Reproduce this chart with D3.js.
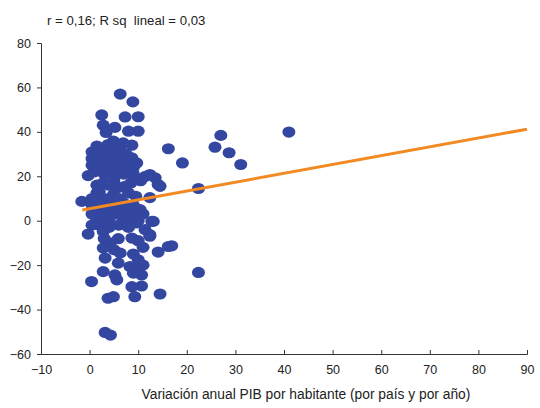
<!DOCTYPE html>
<html>
<head>
<meta charset="utf-8">
<script src="https://cdn.jsdelivr.net/npm/d3@7"></script>
<style>
  body { margin: 0; background: #fff; }
  text { font-family: "Liberation Sans", Arial, sans-serif; fill: #222; }
</style>
</head>
<body>
<script>
// scatter points [variación PIB, valor]
var points = [
  [6.3,57],[8.9,53.5],[2.5,47.6],[7.3,46.7],[10,46.8],[2.8,43],[5.2,42],[3.4,39.7],
  [8,40.3],[10,40.3],[4.9,35.8],[1.5,33.6],[3.8,34.3],[6.9,35],[8.7,34],[16.2,32.4],
  [19.1,26],[27,38.4],[25.8,33.1],[28.7,30.6],[31.1,25.3],[41,39.9],[22.4,14.5],[22.4,-23.3],
  [16.9,-11.3],[14.1,-14.1],[13.1,-0.3],[12.4,-6.3],[14.5,15.5],[13.5,19.3],[12.4,10.4],[14.5,-33],
  [0.5,31],[1.5,30.7],[2.5,31.5],[3.5,32],[4.5,31],[5.5,32],[6.5,31],[7.5,30],
  [0.5,28],[1.5,27],[2.5,26],[3,29],[4.2,25.3],[5,27],[6,28],[7,26],[8.7,28.3],[9.7,26],[9,24],[0.5,25],
  [-0.3,20.3],[1,22],[2,23],[3,21],[4,22],[5,20],[6,23],[7,21],[8,22],[9.3,19.4],[9,21],[12.4,20.8],[11.5,20],
  [2.8,17],[1.5,16],[4,16],[5,18],[6,15],[7.3,15.5],[8.5,17],[10.5,18],[14.1,16.3],
  [1.5,12.5],[4.9,11.7],[8,12.5],[3,10],[0.5,10],[6,10],[9.5,11],[2,13],
  [-1.6,8.7],[0.5,7],[1.5,6],[2.5,8],[3.5,5],[4.5,7],[6,6],[7,8],[10.4,5],[9,7],[8,5],
  [0.5,3],[1.5,1],[2.5,2],[4,0.5],[5,3],[6.3,2.7],[7.5,1],[9,2],[10,0],[11,3],[12.8,-0.3],
  [1.8,-1.8],[2.8,-4.8],[4,-3],[6,-2],[8,-3],[9.5,-1],[11.4,-4],[0.5,-2],
  [-0.3,-6],[5.9,-8.1],[8.7,-7.8],[12.4,-7],[4.2,-10],[3,-8],[10,-9],
  [2.8,-12.3],[6.3,-14.6],[3.2,-16.8],[5,-13],[9,-15],[11,-12],[16.2,-11.6],
  [5.9,-19.1],[10,-17.6],[8.3,-20.6],[2.8,-22.9],[5.2,-24.4],[9,-23.6],[10.7,-24.4],[9.5,-21],[11,-20],
  [0.4,-27.4],[5.6,-26.6],[8.7,-29.7],[10.7,-29.4],[9.3,-34.2],[3.8,-34.9],[4.9,-34.2],
  [3.2,-50.3],[4.3,-51.5]
];

// linear fit line endpoints
var fitX = [-1.5, 90],
    fitY = [4.8, 41.2];

var xTicks = [-10, 0, 10, 20, 30, 40, 50, 60, 70, 80, 90],
    yTicks = [-60, -40, -20, 0, 20, 40, 60, 80];

var title = "r = 0,16; R sq  lineal = 0,03",
    xTitle = "Variación anual PIB por habitante (por país y por año)";

var width = 540,
    height = 408;

var svg = d3.select("body")
    .append("svg")
    .attr("width", width)
    .attr("height", height);

var x = d3.scaleLinear().domain([-10, 90]).range([41, 527]);
var y = d3.scaleLinear().domain([-60, 80]).range([354, 43]);

// points
svg.append("g")
    .selectAll("ellipse")
    .data(points)
    .enter()
    .append("ellipse")
    .attr("cx", function(d) { return x(d[0]); })
    .attr("cy", function(d) { return y(d[1]); })
    .attr("rx", 6.5)
    .attr("ry", 5.6)
    .attr("fill", "#3346a0");

// fit line
svg.append("line")
    .attr("x1", x(fitX[0]))
    .attr("y1", y(fitY[0]))
    .attr("x2", x(fitX[1]))
    .attr("y2", y(fitY[1]))
    .attr("stroke", "#f28a23")
    .attr("stroke-width", 3);

// axes
var yAxis = svg.append("g")
    .attr("transform", "translate(41,0)")
    .call(d3.axisLeft(y).tickValues(yTicks).tickSize(4).tickPadding(6));

var xAxis = svg.append("g")
    .attr("transform", "translate(0,354)")
    .call(d3.axisBottom(x).tickValues(xTicks).tickSize(-4).tickPadding(8));

[xAxis, yAxis].forEach(function(a) {
    a.select(".domain").attr("stroke", "#333");
    a.selectAll(".tick line").attr("stroke", "#333");
    a.selectAll(".tick text")
        .style("font-family", "Liberation Sans, Arial, sans-serif")
        .style("font-size", "12.5px")
        .attr("fill", "#222");
});
xAxis.selectAll(".tick text").attr("y", 11);

svg.append("text")
    .attr("x", 47)
    .attr("y", 25)
    .style("font-size", "13.2px")
    .style("white-space", "pre")
    .text(title);

svg.append("text")
    .attr("x", 306)
    .attr("y", 399)
    .attr("text-anchor", "middle")
    .style("font-size", "13.8px")
    .text(xTitle);
</script>
</body>
</html>
